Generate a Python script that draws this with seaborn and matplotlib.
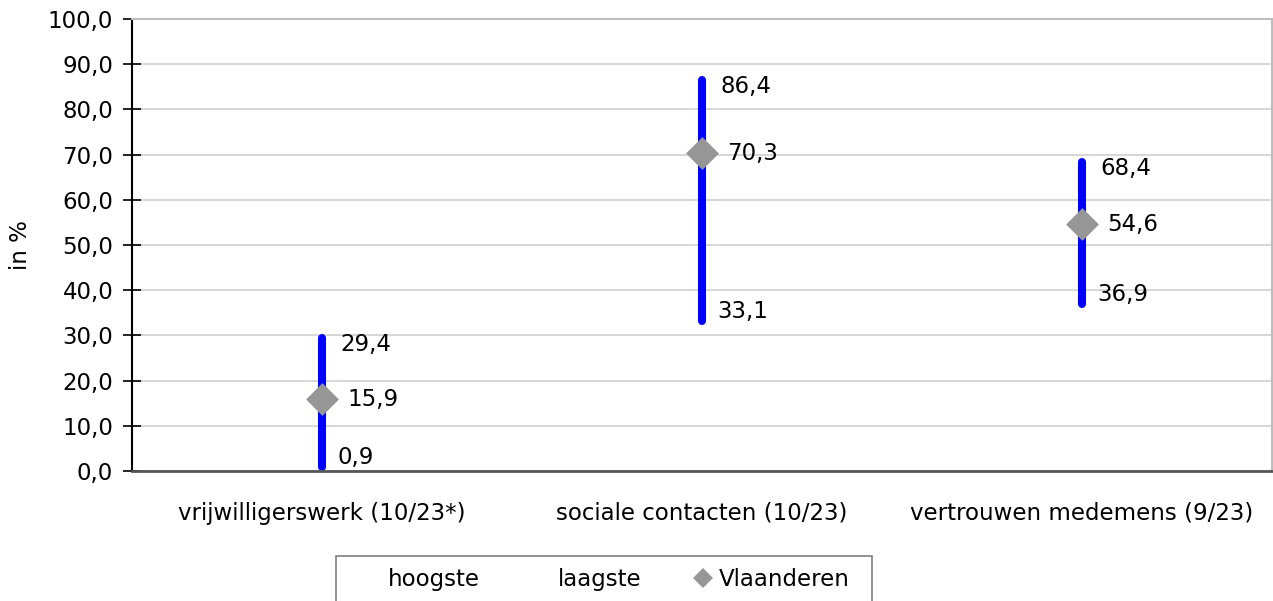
import numpy as np
import pandas as pd
import matplotlib
matplotlib.use("Agg")
import matplotlib.pyplot as plt
from matplotlib.lines import Line2D
from matplotlib.patches import Rectangle
from matplotlib.ticker import FixedLocator, FuncFormatter
import seaborn as sns

categories = ["vrijwilligerswerk (10/23*)", "sociale contacten (10/23)", "vertrouwen medemens (9/23)"]
hoogste = [29.4, 86.4, 68.4]
laagste = [0.9, 33.1, 36.9]
vlaanderen = [15.9, 70.3, 54.6]
y_ticks = list(range(0, 101, 10))
legend_labels = ["hoogste", "laagste", "Vlaanderen"]

sns.set_style("white")
plt.rcParams["font.family"] = ["DejaVu Sans"]
plt.rcParams["text.color"] = "black"
plt.rcParams["axes.labelcolor"] = "black"
plt.rcParams["xtick.labelcolor"] = "black"
plt.rcParams["ytick.labelcolor"] = "black"

W, H = 1273, 601
fig = plt.figure(figsize=(W / 100, H / 100), dpi=100)
ax = fig.add_axes([132 / W, 130 / H, 1140 / W, 452 / H])

pos = np.arange(len(categories))
df_lines = pd.DataFrame({
    "pos": np.concatenate([pos, pos]),
    "waarde": laagste + hoogste,
    "cat": categories + categories,
})

ax.yaxis.grid(True, color="#cfcfcf", lw=1.2)
ax.set_axisbelow(True)

sns.lineplot(data=df_lines, x="pos", y="waarde", units="cat", estimator=None, sort=False,
             color="#0000FF", lw=5.8, solid_capstyle="round", legend=False, ax=ax, zorder=2)
sns.scatterplot(x=pos, y=vlaanderen, marker="D", s=280, color="#969696", linewidth=0,
                zorder=3, ax=ax, legend=False)

fs = 16.5
for i in range(len(categories)):
    ax.annotate(f"{hoogste[i]:.1f}".replace(".", ","), (pos[i], hoogste[i]), xytext=(13.5, -4.5),
                textcoords="offset points", va="center", ha="left", fontsize=fs)
    ax.annotate(f"{vlaanderen[i]:.1f}".replace(".", ","), (pos[i], vlaanderen[i]), xytext=(18, 0),
                textcoords="offset points", va="center", ha="left", fontsize=fs)
    ax.annotate(f"{laagste[i]:.1f}".replace(".", ","), (pos[i], laagste[i]), xytext=(11, 6.8),
                textcoords="offset points", va="center", ha="left", fontsize=fs)

ax.set_xlim(-0.5, len(categories) - 0.5)
ax.set_ylim(0, 100)
ax.set_yticks(y_ticks)
ax.yaxis.set_major_formatter(FuncFormatter(lambda v, p: f"{v:.1f}".replace(".", ",")))
ax.set_xticks(pos)
ax.set_xticklabels(categories)
ax.xaxis.set_minor_locator(FixedLocator(np.arange(len(categories) + 1) - 0.5))
ax.tick_params(axis="x", which="major", length=0, pad=22, labelsize=fs)
ax.tick_params(axis="x", which="minor", direction="inout", length=12.5, width=1.2, color="#333333")
ax.tick_params(axis="y", which="major", direction="inout", length=13, width=1.2, color="black",
               pad=7, labelsize=fs, left=True)
ax.set_xlabel("")
ax.set_ylabel("in %", fontsize=fs)
ax.yaxis.set_label_coords((32 - 132) / 1140, 0.5)

for s in ["top", "right"]:
    ax.spines[s].set_color("#bdbdbd")
    ax.spines[s].set_linewidth(1.5)
ax.spines["left"].set_color("black")
ax.spines["left"].set_linewidth(1.5)
ax.spines["bottom"].set_color("#555555")
ax.spines["bottom"].set_linewidth(2)

handles = [Line2D([], [], linestyle="none"), Line2D([], [], linestyle="none"),
           Line2D([], [], linestyle="none", marker="D", color="#969696", markersize=10.5, markeredgewidth=0)]
fig.legend(handles, legend_labels, loc="upper left", bbox_to_anchor=(360 / W, 1 - 568 / H), ncol=3,
           frameon=False, handlelength=1.0, handletextpad=0.2, columnspacing=2.2, borderpad=0,
           borderaxespad=0, fontsize=fs)
fig.add_artist(Rectangle((336 / W, -0.02), (872 - 336) / W, (601 - 556) / H + 0.02,
                         transform=fig.transFigure, fill=False, edgecolor="#7f7f7f", lw=1.2))

fig.savefig("out.png", dpi=100)
